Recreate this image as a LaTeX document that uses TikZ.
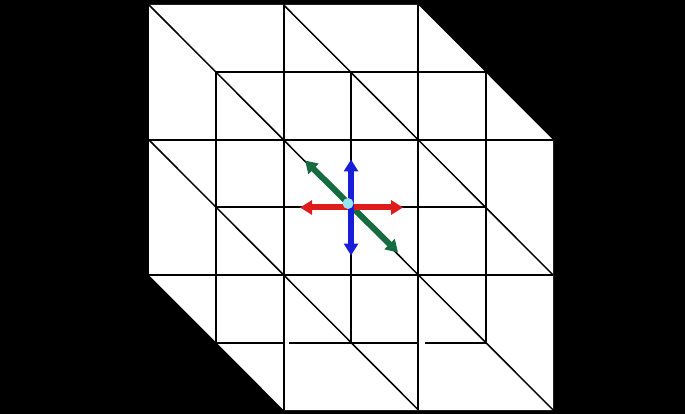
\documentclass[tikz,border=0pt]{standalone}
\usetikzlibrary{arrows.meta,calc}
\definecolor{arrred}{RGB}{222,28,28}
\definecolor{arrblue}{RGB}{24,30,215}
\definecolor{arrgreen}{RGB}{22,108,64}
\definecolor{dotcyan}{RGB}{150,228,240}
\begin{document}
\begin{tikzpicture}[x=1pt,y=-1pt,
  gridline/.style={line width=2pt, black},
  diagline/.style={line width=1.5pt, black},
  dirarrow/.style={line width=6pt, {Triangle[length=12pt,width=14pt]}-{Triangle[length=12pt,width=14pt]}},
]
\fill[black] (0,0) rectangle (685,414);
\useasboundingbox (0,0) rectangle (685,414);
\foreach \i in {0,...,6}
  \foreach \j in {0,...,6}
    \coordinate (p-\i-\j) at ({149+67.35*\i},{5+67.5*\j});
\fill[white] (p-0-0) -- (p-4-0) -- (p-6-2) -- (p-6-6) -- (p-2-6) -- (p-0-4) -- cycle;
% horizontal lines
\draw[gridline] (p-1-1) -- (p-5-1);
\draw[gridline] (p-0-2) -- (p-6-2);
\draw[gridline] (p-1-3) -- (p-5-3);
\draw[gridline] (p-0-4) -- (p-6-4);
\draw[gridline] (p-1-5) -- (p-2-5);
\draw[gridline, shorten <=5pt] (p-2-5) -- (p-4-5);
\draw[gridline, shorten <=7pt] (p-4-5) -- (p-5-5);
% vertical lines
\draw[gridline] (p-1-1) -- (p-1-5);
\draw[gridline] (p-2-0) -- (p-2-6);
\draw[gridline] (p-3-1) -- (p-3-5);
\draw[gridline] (p-4-0) -- (p-4-6);
\draw[gridline] (p-5-1) -- (p-5-5);
% diagonals
\draw[diagline] (p-0-0) -- (p-6-6);
\draw[diagline] (p-2-0) -- (p-6-4);
\draw[diagline] (p-0-2) -- (p-4-6);
% arrows
\coordinate (c) at (p-3-3);
\coordinate (g1) at ($(c)+(-46,-47)$);
\coordinate (g2) at ($(c)+(47,45)$);
\coordinate (r1) at ($(c)+(-51,0)$);
\coordinate (r2) at ($(c)+(52,0)$);
\coordinate (b1) at ($(c)+(0,-48)$);
\coordinate (b2) at ($(c)+(0,48)$);
\draw[dirarrow, arrgreen] (g1) -- (g2);
\draw[dirarrow, arrred] (r1) -- (r2);
\draw[dirarrow, arrblue] (b1) -- (b2);
\fill[dotcyan] ($(c)+(-3,-4)$) circle (5.5pt);
\end{tikzpicture}
\end{document}
